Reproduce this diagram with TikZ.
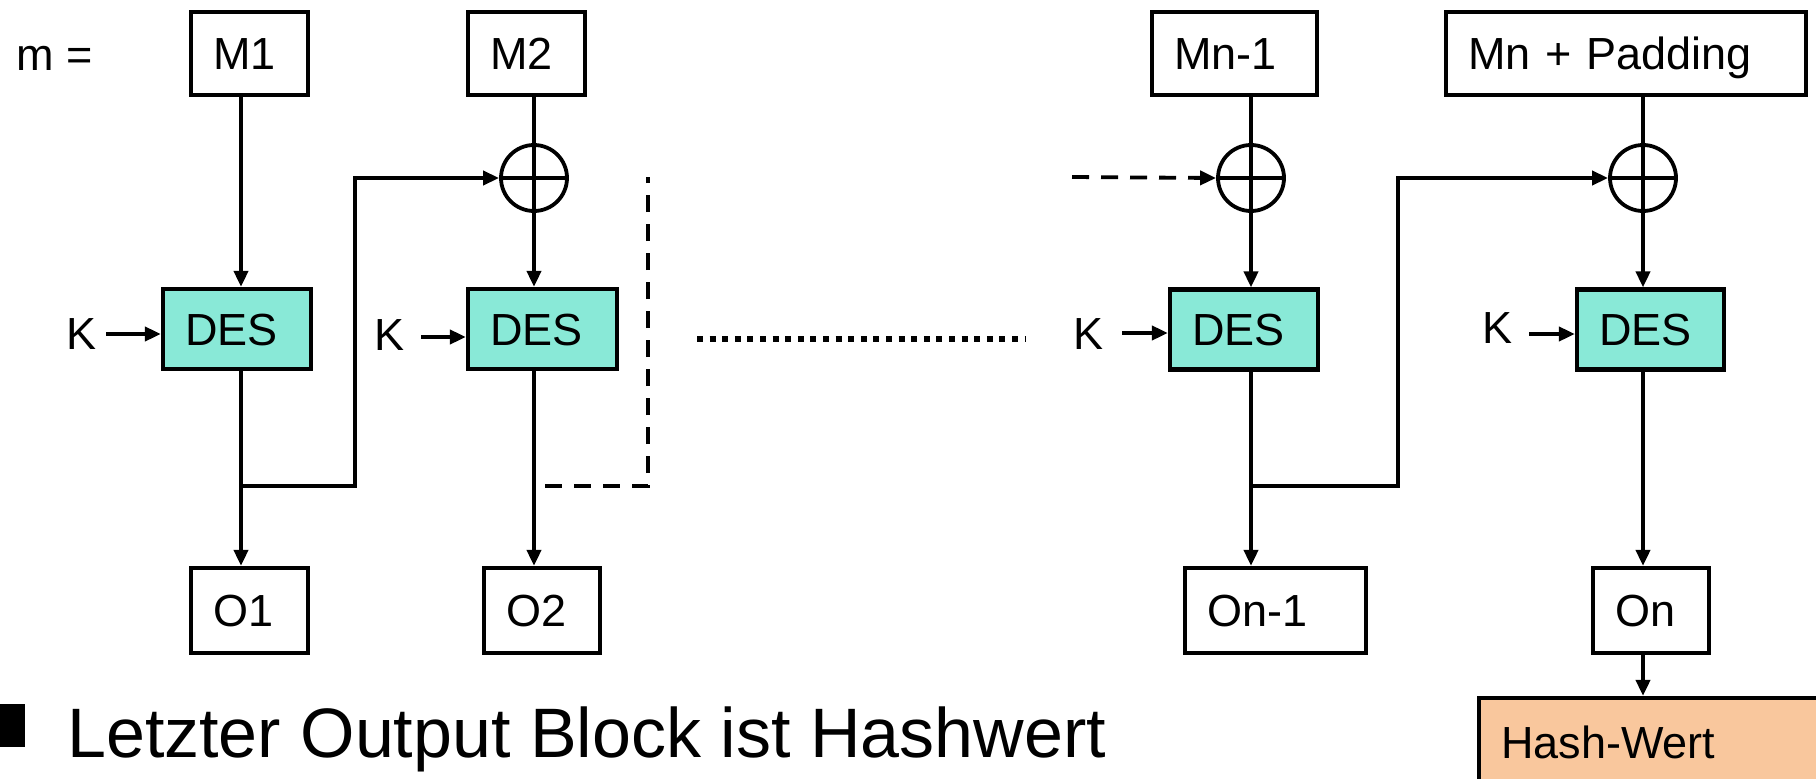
\documentclass[tikz,border=0pt]{standalone}
\usepackage{fontspec}
\setmainfont{Liberation Sans}
\usetikzlibrary{arrows.meta}
\definecolor{desfill}{RGB}{137,233,215}
\definecolor{hashfill}{RGB}{249,199,157}
\newcommand{\lblfont}{\fontsize{45}{54}\selectfont}
\newcommand{\bigfont}{\fontsize{70}{84}\selectfont}
\tikzset{
  box/.style={draw, line width=4.2pt, inner xsep=22pt, inner ysep=0pt, align=left,
    text height=32pt, text depth=0pt, font=\lblfont, minimum height=83pt},
  desbox/.style={box, fill=desfill, minimum height=80pt},
  xorc/.style={draw, circle, line width=3.8pt, minimum size=66pt, inner sep=0pt},
  klbl/.style={inner sep=0pt, text height=32pt, text depth=0pt, font=\lblfont},
  conn/.style={line width=3.8pt},
  tip/.style={-{Triangle[length=16pt,width=14pt]}},
  arr/.style={conn, tip},
  dsh/.style={line width=3.8pt, dash pattern=on 17pt off 12pt},
}
\begin{document}
\begin{tikzpicture}[x=1pt,y=-1pt]
\clip (0,0) rectangle (1816,779);
\fill[white] (0,0) rectangle (1816,779);

% column coordinates
\coordinate (c1) at (241,0);
\coordinate (c2) at (534,0);
\coordinate (c3) at (1251,0);
\coordinate (c4) at (1643,0);

% input blocks
\node[anchor=base west, inner sep=0pt, font=\lblfont] (meq) at (16,70) {m =};
\node[box, text width=73pt] (M1) at (249.5,53.5) {M1};
\node[box, text width=73pt] (M2) at (526.5,53.5) {M2};
\node[box, text width=121pt] (Mn1) at (1234.5,53.5) {Mn-1};
\node[box, text width=316pt] (Mn) at (1626,53.5) {Mn + Padding};

% xor
\node[xorc] (X2) at (534,178) {};
\node[xorc] (X3) at (1251,178) {};
\node[xorc] (X4) at (1643,178) {};
\foreach \x in {X2,X3,X4}{
  \draw[conn] (\x.north) -- (\x.south) (\x.west) -- (\x.east);
}

% DES blocks
\node[desbox, text width=104pt] (D1) at (237,329) {DES};
\node[desbox, text width=105pt] (D2) at (542.5,329) {DES};
\node[desbox, text width=104pt] (D3) at (1244,329.5) {DES};
\node[desbox, text width=103pt] (D4) at (1650.5,329.5) {DES};

% keys
\node[klbl] (K1) at (82,333) {K};
\node[klbl] (K2) at (390,334) {K};
\node[klbl] (K3) at (1088,333) {K};
\node[klbl] (K4) at (1497,327) {K};
\coordinate (k1s) at (106,334);
\coordinate (k2s) at (421,337);
\coordinate (k3s) at (1122,333);
\coordinate (k4s) at (1529,334);
\draw[arr] (k1s) -- (D1.west |- k1s);
\draw[arr] (k2s) -- (D2.west |- k2s);
\draw[arr] (k3s) -- (D3.west |- k3s);
\draw[arr] (k4s) -- (D4.west |- k4s);

% outputs
\node[box, text width=73pt, minimum height=85pt] (O1) at (249.5,610.5) {O1};
\node[box, text width=72pt, minimum height=85pt] (O2) at (542,610.5) {O2};
\node[box, text width=137pt, minimum height=85pt] (On1) at (1275.5,610.5) {On-1};
\node[box, text width=72pt, minimum height=85pt] (On) at (1651,610.5) {On};
\node[box, fill=hashfill, text width=316pt, minimum height=88pt] (H) at (1659,742) {Hash-Wert};

% column 1
\draw[arr] (M1.south -| c1) -- (D1.north -| c1);
\draw[arr] (D1.south -| c1) -- (O1.north -| c1);
\coordinate (b1) at (241,486);
\coordinate (f1) at (355,486);
\draw[arr] (b1) -- (f1) |- (X2.west);

% column 2
\draw[conn] (M2.south -| c2) -- (X2.north);
\draw[arr] (X2.south) -- (D2.north -| c2);
\draw[arr] (D2.south -| c2) -- (O2.north -| c2);
\coordinate (d1) at (545,486);
\coordinate (d2) at (648,177);
\draw[dsh] (d1) -| (d2);

% dotted gap
\coordinate (g1) at (697,339);
\coordinate (g2) at (1026,339);
\draw[line width=5.5pt, dash pattern=on 6pt off 6.6pt] (g1) -- (g2);

% column 3
\coordinate (d3) at (1072,177);
\draw[dsh, tip] (d3) -- (X3.west);
\draw[conn] (Mn1.south -| c3) -- (X3.north);
\draw[arr] (X3.south) -- (D3.north -| c3);
\draw[arr] (D3.south -| c3) -- (On1.north -| c3);
\coordinate (b3) at (1251,486);
\coordinate (f3) at (1398,486);
\draw[arr] (b3) -- (f3) |- (X4.west);

% column 4
\draw[conn] (Mn.south -| c4) -- (X4.north);
\draw[arr] (X4.south) -- (D4.north -| c4);
\draw[arr] (D4.south -| c4) -- (On.north -| c4);
\draw[arr] (On.south -| c4) -- (H.north -| c4);

% bullet text
\fill (0,704) rectangle (25,747);
\node[anchor=base west, inner sep=0pt, font=\bigfont] (note) at (67,757) {Letzter Output Block ist Hashwert};
\end{tikzpicture}
\end{document}
